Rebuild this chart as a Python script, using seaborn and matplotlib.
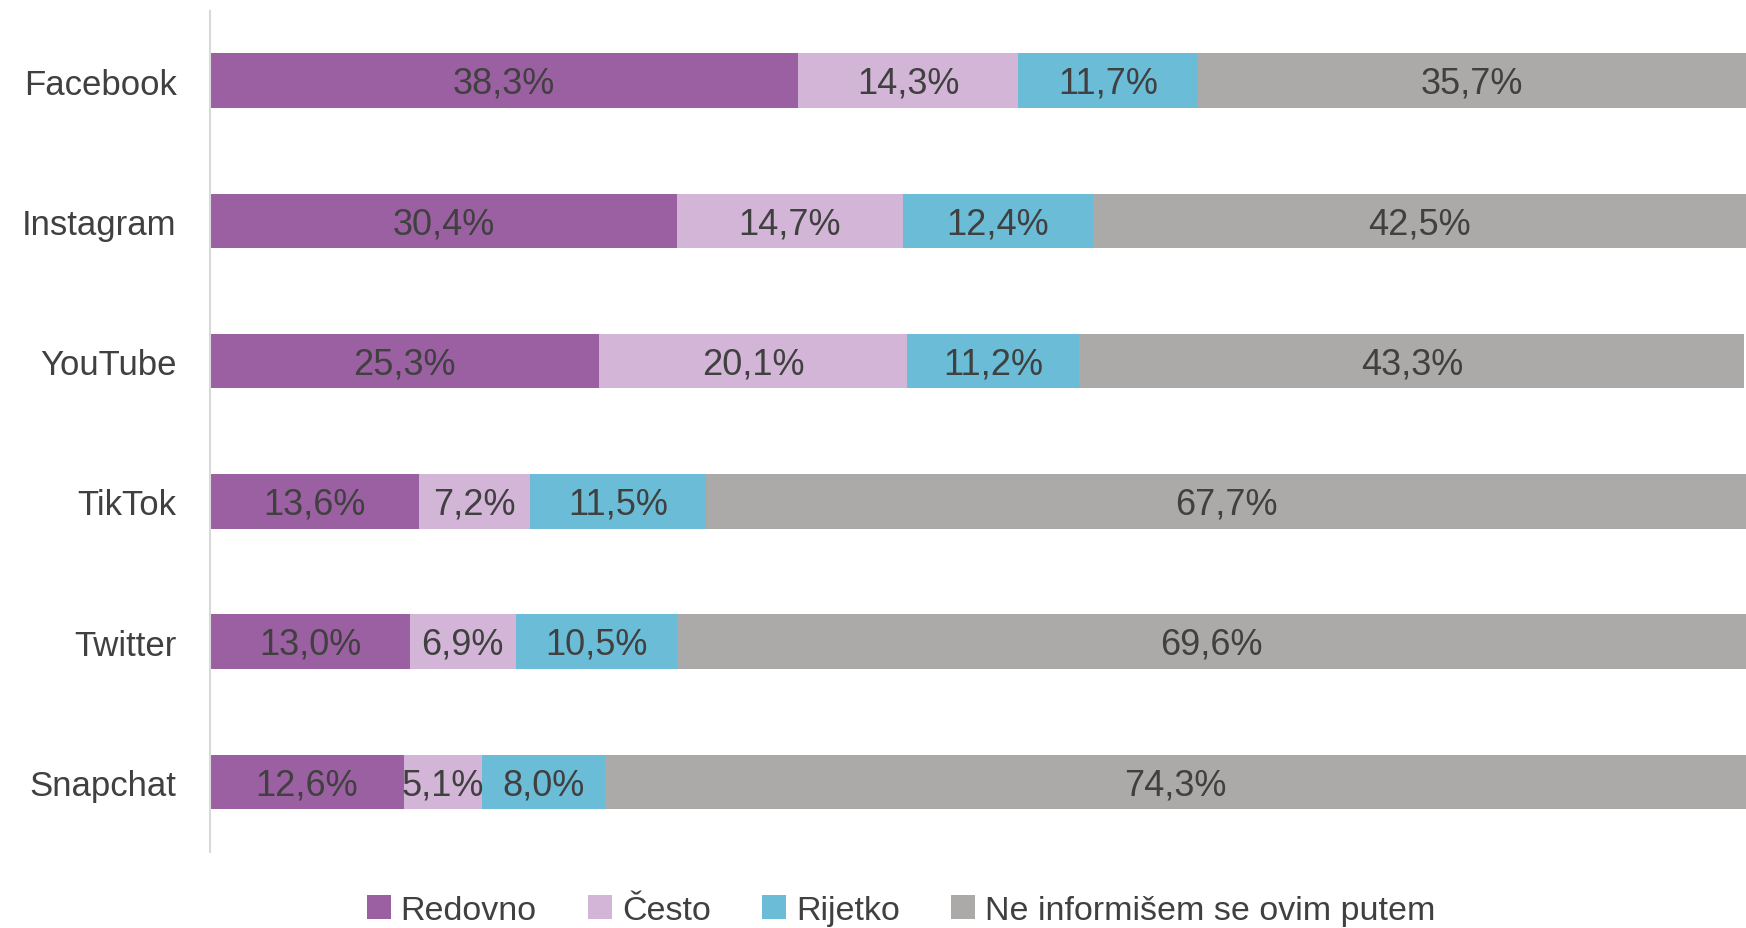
import numpy as np
import pandas as pd
import seaborn as sns
import matplotlib.pyplot as plt
from matplotlib.patches import Patch

platforms = ["Facebook", "Instagram", "YouTube", "TikTok", "Twitter", "Snapchat"]
redovno = [38.3, 30.4, 25.3, 13.6, 13.0, 12.6]
cesto = [14.3, 14.7, 20.1, 7.2, 6.9, 5.1]
rijetko = [11.7, 12.4, 11.2, 11.5, 10.5, 8.0]
ne_informisem = [35.7, 42.5, 43.3, 67.7, 69.6, 74.3]

series = ["Redovno", "Često", "Rijetko", "Ne informišem se ovim putem"]
colors = ["#9B60A1", "#D3B5D7", "#6BBDD7", "#ABAAA8"]
text_color = "#404040"

df = pd.DataFrame({"Platforma": platforms, "Redovno": redovno, "Često": cesto,
                   "Rijetko": rijetko, "Ne informišem se ovim putem": ne_informisem})
cum = df[series].cumsum(axis=1)

sns.set_style("white")
plt.rcParams["font.family"] = ["Liberation Sans", "DejaVu Sans"]

fig = plt.figure(figsize=(17.46, 9.29), dpi=100)
ax = fig.add_axes([0.1203, 0.0818, 0.8797, 0.9058])

# stacked bars: draw cumulative totals from the back to the front
for s, c in reversed(list(zip(series, colors))):
    sns.barplot(x=cum[s], y=df["Platforma"], orient="h", color=c,
                width=0.39, ax=ax, saturation=1, linewidth=0)

# value labels in the middle of each segment
for i, p in enumerate(platforms):
    left = 0
    for s in series:
        v = df.loc[i, s]
        ax.text(left + v / 2, i + 0.02, f"{v:.1f}%".replace(".", ","), ha="center",
                va="center", fontsize=26, color=text_color)
        left += v

ax.set_xlim(0, 100)
ax.set_ylim(5.5, -0.5)
ax.set_xlabel("")
ax.set_ylabel("")
ax.set_xticks([])
ax.tick_params(axis="y", length=0, pad=24, labelsize=25, labelcolor=text_color)
for side in ["top", "right", "bottom"]:
    ax.spines[side].set_visible(False)
ax.spines["left"].set_color("#D9D9D9")
ax.spines["left"].set_linewidth(1.5)

handles = [Patch(facecolor=c, edgecolor="none", label=s) for s, c in zip(series, colors)]
fig.legend(handles=handles, loc="center", bbox_to_anchor=(0.516, 0.019), ncol=4,
           frameon=False, fontsize=24.5, handlelength=0.7, handleheight=0.7,
           handletextpad=0.3, columnspacing=1.5, labelcolor=text_color)

fig.savefig("out.png", dpi=100)
